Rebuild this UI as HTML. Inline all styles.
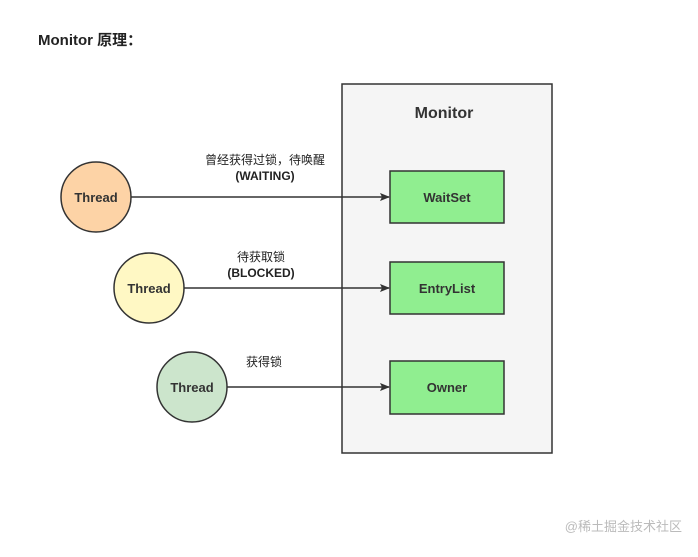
<!DOCTYPE html>
<html><head><meta charset="utf-8"><style>
body{margin:0;background:#fff;}
svg text{font-family:"Liberation Sans","Noto Sans CJK SC",sans-serif;}
</style></head><body>
<svg width="698" height="552" viewBox="0 0 698 552" xmlns="http://www.w3.org/2000/svg">
<defs><marker id="a" markerWidth="10" markerHeight="8" refX="9" refY="4" orient="auto" markerUnits="userSpaceOnUse"><path d="M0,0 L10,4 L0,8 L2,4 Z" fill="#333"/></marker></defs>
<text x="38" y="45" font-size="15" font-weight="bold" fill="#222">Monitor 原理：</text>
<rect x="342" y="84" width="210" height="369" fill="#f5f5f5" stroke="#333" stroke-width="1.5"/>
<text x="444" y="118" font-size="16" font-weight="bold" fill="#333" text-anchor="middle">Monitor</text>
<rect x="390" y="171" width="114" height="52" fill="#90ee90" stroke="#333" stroke-width="1.5"/>
<rect x="390" y="262" width="114" height="52" fill="#90ee90" stroke="#333" stroke-width="1.5"/>
<rect x="390" y="361" width="114" height="53" fill="#90ee90" stroke="#333" stroke-width="1.5"/>
<text x="447" y="202" font-size="13" font-weight="bold" fill="#333" text-anchor="middle">WaitSet</text>
<text x="447" y="293" font-size="13" font-weight="bold" fill="#333" text-anchor="middle">EntryList</text>
<text x="447" y="392" font-size="13" font-weight="bold" fill="#333" text-anchor="middle">Owner</text>
<circle cx="96" cy="197" r="35" fill="#fdd3a6" stroke="#333" stroke-width="1.5"/>
<circle cx="149" cy="288" r="35" fill="#fff8c4" stroke="#333" stroke-width="1.5"/>
<circle cx="192" cy="387" r="35" fill="#cce5cc" stroke="#333" stroke-width="1.5"/>
<text x="96" y="202" font-size="13" font-weight="bold" fill="#333" text-anchor="middle">Thread</text>
<text x="149" y="293" font-size="13" font-weight="bold" fill="#333" text-anchor="middle">Thread</text>
<text x="192" y="392" font-size="13" font-weight="bold" fill="#333" text-anchor="middle">Thread</text>
<line x1="131" y1="197" x2="389" y2="197" stroke="#333" stroke-width="1.5" marker-end="url(#a)"/>
<line x1="184" y1="288" x2="389" y2="288" stroke="#333" stroke-width="1.5" marker-end="url(#a)"/>
<line x1="227" y1="387" x2="389" y2="387" stroke="#333" stroke-width="1.5" marker-end="url(#a)"/>
<text x="265" y="164" font-size="12" fill="#222" text-anchor="middle">曾经获得过锁，待唤醒</text>
<text x="265" y="180" font-size="12" font-weight="bold" fill="#222" text-anchor="middle">(WAITING)</text>
<text x="261" y="261" font-size="12" fill="#222" text-anchor="middle">待获取锁</text>
<text x="261" y="277" font-size="12" font-weight="bold" fill="#222" text-anchor="middle">(BLOCKED)</text>
<text x="264" y="366" font-size="12" fill="#222" text-anchor="middle">获得锁</text>
<text x="682" y="531" font-size="13" fill="#bbb" text-anchor="end">@稀土掘金技术社区</text>
</svg>
</body></html>
